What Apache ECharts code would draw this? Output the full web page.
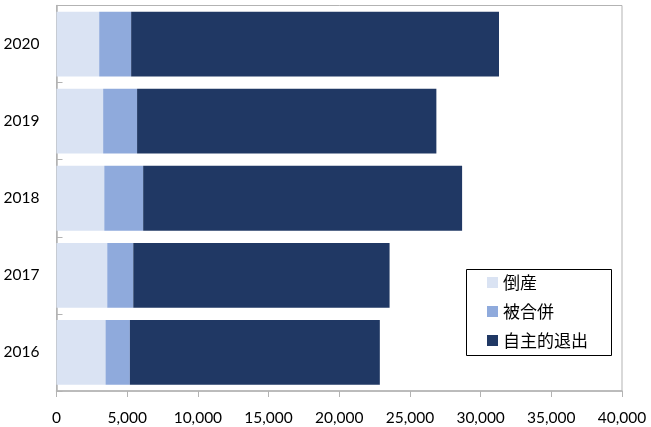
<!DOCTYPE html>
<html>
<head>
<meta charset="utf-8">
<script src="https://cdn.jsdelivr.net/npm/echarts@6/dist/echarts.min.js"></script>
<style>
html,body{margin:0;padding:0;background:#fff;}
#main{width:651px;height:427px;}
</style>
</head>
<body>
<div id="main"></div>
<script>
const years = ['2016', '2017', '2018', '2019', '2020'];
const bankruptcy = [3470, 3590, 3380, 3300, 3020];
const merged = [1720, 1840, 2750, 2400, 2260];
const voluntaryExit = [17680, 18130, 22560, 21170, 26020];
const xTicks = [0, 5000, 10000, 15000, 20000, 25000, 30000, 35000, 40000];

const seriesNames = ['倒産', '被合併', '自主的退出'];
const colors = ['#DAE3F3', '#8FAADC', '#203864'];
const numFont = 'Lato, "Noto Sans", sans-serif';
const cjkFont = '"Noto Sans CJK JP", sans-serif';

const chart = echarts.init(document.getElementById('main'));
chart.setOption({
  animation: false,
  grid: {left: 56.5, right: 29, top: 5.5, bottom: 36, show: true, borderColor: '#B3B3B3', borderWidth: 1, containLabel: false},
  xAxis: {
    type: 'value', min: xTicks[0], max: xTicks[xTicks.length - 1], interval: 5000,
    axisLine: {show: true, lineStyle: {color: '#B3B3B3', width: 1.5}},
    axisTick: {show: true, inside: false, length: 6, lineStyle: {color: '#B3B3B3'}},
    splitLine: {show: false},
    axisLabel: {color: '#000', fontFamily: numFont, fontSize: 15.5, margin: 19,
      formatter: v => v.toLocaleString('en-US')}
  },
  yAxis: {
    type: 'category', data: years,
    axisLine: {show: true, lineStyle: {color: '#B3B3B3', width: 1.5}},
    axisTick: {show: true, inside: true, length: 6, lineStyle: {color: '#B3B3B3'}},
    axisLabel: {color: '#000', fontFamily: numFont, fontSize: 15.5, margin: 17}
  },
  legend: {
    orient: 'vertical', left: 487, top: 274, padding: 0, itemGap: 12,
    itemWidth: 11, itemHeight: 11, icon: 'rect',
    textStyle: {fontFamily: cjkFont, fontSize: 17, color: '#000'},
    data: seriesNames
  },
  graphic: [{
    type: 'rect', left: 466, top: 269, z: 1,
    shape: {width: 145, height: 86},
    style: {fill: '#fff', stroke: '#000', lineWidth: 1}
  }],
  series: [bankruptcy, merged, voluntaryExit].map((d, i) => ({
    name: seriesNames[i], type: 'bar', stack: 'total', data: d,
    barCategoryGap: '16%', itemStyle: {color: colors[i]}
  }))
});
</script>
</body>
</html>
